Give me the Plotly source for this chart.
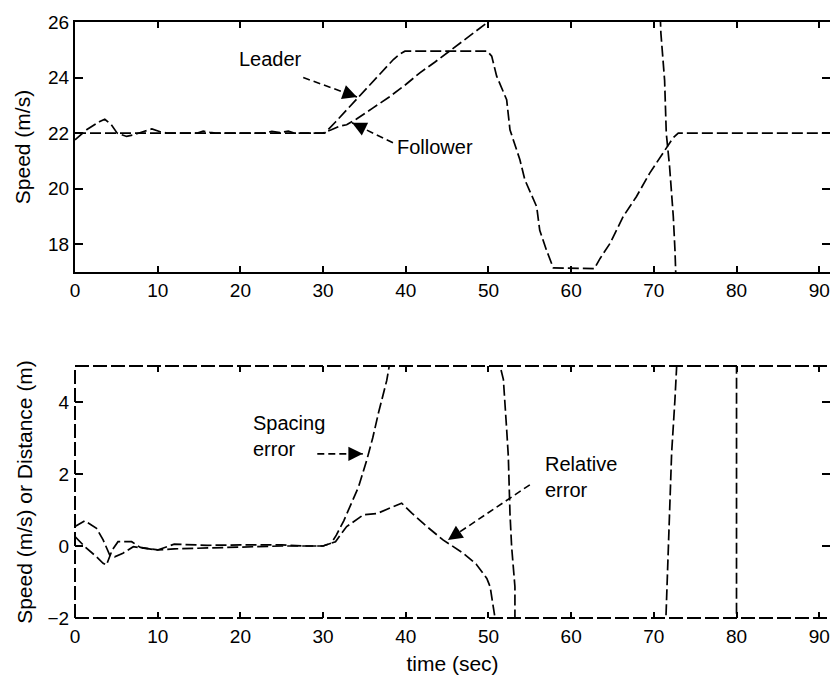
import plotly.graph_objects as go

# ---------------- data ----------------
t_leader = [0, 30, 30.2, 31.5, 32.9, 34.3, 35.7, 37.1, 38.5, 39.3, 39.9, 49.85, 50.39,
            50.99, 52.2, 52.6, 53.8, 54.4, 55.83, 56.2, 57.0, 57.84, 62.8, 63.5, 64.7,
            66.3, 67.9, 69.5, 71.1, 72.3, 72.95, 92]
v_leader = [22, 22, 22.0, 22.4, 22.85, 23.3, 23.75, 24.2, 24.65, 24.85, 24.95, 24.95, 24.77,
            24.05, 23.2, 22.12, 21.04, 20.32, 19.35, 18.5, 17.8, 17.15, 17.12, 17.49, 18.03,
            19.0, 19.72, 20.56, 21.28, 21.82, 22.0, 22.0]

t_follower = [0, 1.4, 3.0, 3.6, 4.4, 5.1, 6.25, 7.0, 8.3, 9.3, 10.3, 11.1, 14.8, 15.5, 16.3,
              17.0, 22.8, 23.8, 24.8, 25.8, 26.5, 30.0, 31.0, 32.0, 32.85, 34.0, 36.0, 38.0,
              40.0, 41.7, 43.5, 45.3, 47.5, 49.95, 55, 60, 65, 70, 70.8, 70.85, 71.3, 71.5,
              71.9, 72.35, 72.55, 72.7, 75]
v_follower = [21.76, 22.12, 22.42, 22.5, 22.3, 22.0, 21.88, 21.93, 22.06, 22.15, 22.05, 22.0,
              22.0, 22.07, 22.03, 22.0, 22.0, 22.06, 22.02, 22.07, 22.0, 22.0, 22.12, 22.25,
              22.3, 22.5, 22.9, 23.3, 23.75, 24.17, 24.55, 24.95, 25.45, 26.0, 27.2, 28.0,
              28.3, 27.5, 26.0, 25.6, 23.9, 22.0, 20.8, 19.0, 17.8, 16.5, 14.0]

t_spacing = [0, 1.2, 2.6, 3.4, 4.2, 4.8, 5.8, 7.05, 8.3, 10, 12, 16, 20, 25, 28, 30.0, 31.0,
             31.6, 32.5, 33.25, 34.3, 35.3, 36.0, 36.7, 37.7, 38.0, 42, 47, 51.0, 51.4, 51.8,
             52.2, 52.4, 52.6, 52.8, 53.2, 53.2, 60, 79.99, 80.0, 92]
v_spacing = [0.54, 0.70, 0.49, 0.17, -0.25, -0.3, -0.2, -0.02, -0.06, -0.11, 0.05, 0.02, 0.03,
             0.03, 0.0, 0.0, 0.08, 0.3, 0.7, 1.1, 1.65, 2.4, 3.0, 3.7, 4.6, 5.0, 8.5, 9.5, 6.5,
             5.0, 4.63, 3.24, 2.49, 0.91, -0.02, -1.13, -2.5, -8.0, -10.0, 10.0, 12.0]

t_relative = [0, 1.2, 2.6, 3.4, 3.8, 4.5, 5.2, 6.85, 7.9, 10, 12, 16, 20, 25, 30, 31.5, 32.85,
              34.0, 34.9, 36.5, 38.1, 39.5, 40.7, 42.5, 44.5, 46.0, 46.95, 48.5, 49.8, 50.2,
              50.4, 50.8, 51.2, 60, 71.0, 71.46, 71.55, 71.74, 72.15, 72.55, 72.76, 74, 92]
v_relative = [0.26, -0.02, -0.3, -0.48, -0.53, -0.11, 0.12, 0.12, -0.04, -0.11, -0.08, -0.06,
              -0.02, 0.0, 0.0, 0.12, 0.54, 0.72, 0.87, 0.9, 1.05, 1.19, 0.92, 0.55, 0.17, -0.05,
              -0.2, -0.5, -0.9, -1.13, -1.4, -2.0, -2.6, -8.0, -5.0, -2.0, -1.41, 0.35, 2.59,
              4.07, 5.0, 8.0, 8.0]

x_ticks = [0, 10, 20, 30, 40, 50, 60, 70, 80, 90]
y1_ticks = [18, 20, 22, 24, 26]
y2_ticks = [-2, 0, 2, 4]

FONT = "Arial, 'Liberation Sans', Helvetica, sans-serif"
LINE = dict(color="black", width=1.7, dash="11px,4px")

fig = go.Figure()
fig.add_trace(go.Scatter(x=t_leader, y=v_leader, mode="lines", line=LINE, name="Leader",
                         xaxis="x", yaxis="y"))
fig.add_trace(go.Scatter(x=t_follower, y=v_follower, mode="lines", line=LINE, name="Follower",
                         xaxis="x", yaxis="y"))
fig.add_trace(go.Scatter(x=t_spacing, y=v_spacing, mode="lines", line=LINE, name="Spacing error",
                         xaxis="x2", yaxis="y2"))
fig.add_trace(go.Scatter(x=t_relative, y=v_relative, mode="lines", line=LINE, name="Relative error",
                         xaxis="x2", yaxis="y2"))

common_x = dict(range=[0, 91.3], tickvals=x_ticks, ticks="inside", ticklen=6, tickwidth=2,
                tickcolor="black", showgrid=False, zeroline=False, mirror="ticks",
                automargin=False,
                tickfont=dict(family=FONT, size=19, color="black"), domain=[0, 1])
common_y = dict(ticks="inside", ticklen=8, tickwidth=2, tickcolor="black", showgrid=False,
                zeroline=False, mirror="ticks", automargin=False,
                tickfont=dict(family=FONT, size=19, color="black"))

fig.update_layout(
    width=830, height=675,
    margin=dict(l=75, r=0, t=22, b=57),
    paper_bgcolor="white", plot_bgcolor="white",
    showlegend=False,
    xaxis=dict(common_x, anchor="y", showline=True, linewidth=2, linecolor="black"),
    yaxis=dict(common_y, anchor="x", domain=[0.5805, 1], range=[17, 26], tickvals=y1_ticks,
               showline=True, linewidth=2, linecolor="black",
               title=dict(text="Speed (m/s)", standoff=12,
                          font=dict(family=FONT, size=21, color="black"))),
    xaxis2=dict(common_x, anchor="y2", showline=True, linewidth=2,
                linecolor="rgba(0,0,0,0)",
                title=dict(text="time (sec)", standoff=22,
                           font=dict(family=FONT, size=21, color="black"))),
    yaxis2=dict(common_y, anchor="x2", domain=[0, 0.4228], range=[-2, 5], tickvals=y2_ticks,
                showline=True, linewidth=2, linecolor="rgba(0,0,0,0)",
                title=dict(text="Speed (m/s) or Distance (m)", standoff=9,
                           font=dict(family=FONT, size=21, color="black"))),
)

# dashed frame of the lower panel
FRAME = dict(color="black", width=2, dash="14px,4px")
for (x0, y0, x1, y1) in [(0, 0, 1, 0), (0, 1, 1, 1), (0, 0, 0, 1)]:
    fig.add_shape(type="line", xref="x2 domain", yref="y2 domain", x0=x0, y0=y0, x1=x1, y1=y1,
                  line=FRAME)

# annotation arrows: (tail, head) in data units, with short head vectors in pixels
arrows = [
    ("x", "y", 27.6, 24.0, 34.1, 23.3, -13, -4.7),     # Leader
    ("x", "y", 38.45, 21.65, 33.5, 22.37, 12.6, 6.1),  # Follower
    ("x2", "y2", 29.3, 2.56, 34.8, 2.56, -14, 0),      # Spacing error
    ("x2", "y2", 55.0, 1.7, 45.1, 0.17, 11.6, -7.8),   # Relative error
]
for xr, yr, tx, ty, hx, hy, ax, ay in arrows:
    fig.add_shape(type="line", xref=xr, yref=yr, x0=tx, y0=ty, x1=hx, y1=hy,
                  line=dict(color="black", width=1.6, dash="7px,4px"))
    fig.add_annotation(xref=xr, yref=yr, x=hx, y=hy, ax=ax, ay=ay, text="", showarrow=True,
                       arrowhead=2, arrowsize=1.8, arrowwidth=1.6, arrowcolor="black")

labels = [
    ("x", "y", 19.6, 24.68, "Leader"),
    ("x", "y", 38.7, 21.51, "Follower"),
    ("x2", "y2", 21.3, 3.06, "Spacing<br>error"),
    ("x2", "y2", 56.6, 1.91, "Relative<br>error"),
]
for xr, yr, x, y, txt in labels:
    fig.add_annotation(xref=xr, yref=yr, x=x, y=y, text=txt, showarrow=False, xanchor="left",
                       yanchor="middle", align="left",
                       font=dict(family=FONT, size=20, color="black"))

fig.write_html("out.html", config={"displayModeBar": False},
               post_script="document.body.style.margin='0';document.body.style.overflow='hidden';")
